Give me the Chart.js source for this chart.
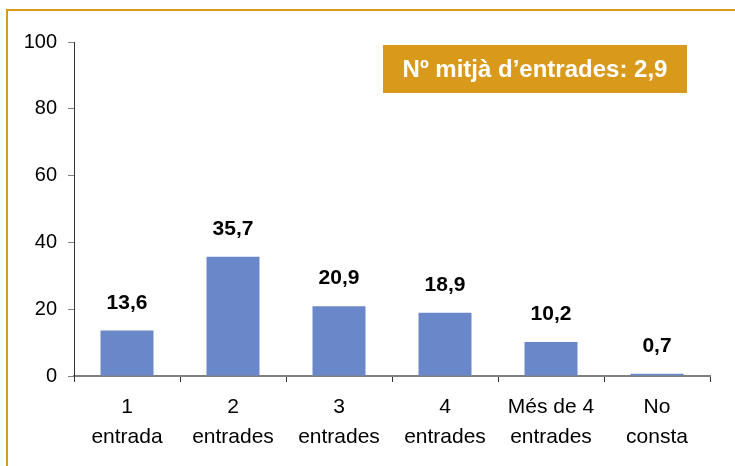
<!DOCTYPE html>
<html>
<head>
<meta charset="utf-8">
<script src="https://cdn.jsdelivr.net/npm/chart.js@4/dist/chart.umd.min.js"></script>
<style>
  html, body { margin: 0; padding: 0; background: #fff; overflow: hidden; }
  canvas { display: block; }
</style>
</head>
<body>
<canvas id="chart" width="735" height="466"></canvas>
<script>
// dades del grafic
const categories = [["1", "entrada"], ["2", "entrades"], ["3", "entrades"], ["4", "entrades"], ["Més de 4", "entrades"], ["No", "consta"]];
const values = [13.6, 35.7, 20.9, 18.9, 10.2, 0.7];
const yTicks = [0, 20, 40, 60, 80, 100];
const noteText = "Nº mitjà d’entrades: 2,9";

const orange = "#d99a1c";
const barBlue = "#6a87c9";
const fontName = "'Liberation Sans', Arial, sans-serif";

// marc taronja, etiquetes de valor i requadre de la mitjana
const extras = {
  id: "extras",
  beforeDraw(chart) {
    const ctx = chart.ctx;
    ctx.save();
    ctx.strokeStyle = orange;
    ctx.lineWidth = 2;
    ctx.beginPath();
    ctx.moveTo(7, 466);
    ctx.lineTo(7, 10);
    ctx.lineTo(735, 10);
    ctx.stroke();
    ctx.restore();
  },
  afterDatasetsDraw(chart) {
    const ctx = chart.ctx;
    ctx.save();
    ctx.font = "bold 21px " + fontName;
    ctx.fillStyle = "#000";
    ctx.textAlign = "center";
    ctx.textBaseline = "bottom";
    chart.getDatasetMeta(0).data.forEach((bar, i) => {
      ctx.fillText(values[i].toFixed(1).replace(".", ","), bar.x, bar.y - 17);
    });

    ctx.fillStyle = orange;
    ctx.fillRect(383, 45, 304, 48);
    ctx.fillStyle = "#fff";
    ctx.font = "bold 24px " + fontName;
    ctx.textBaseline = "middle";
    ctx.fillText(noteText, 535, 70);
    ctx.restore();
  }
};

const canvas = document.getElementById("chart").getContext("2d");
new Chart(canvas, {
  type: "bar",
  data: {
    labels: categories,
    datasets: [{
      data: values,
      backgroundColor: barBlue,
      categoryPercentage: 1,
      barPercentage: 0.5
    }]
  },
  options: {
    responsive: false,
    animation: false,
    devicePixelRatio: 1,
    layout: { padding: { top: 42, right: 25, left: 0, bottom: 0 } },
    plugins: { legend: { display: false }, tooltip: { enabled: false } },
    scales: {
      x: {
        grid: { drawOnChartArea: false, drawTicks: true, tickLength: 6, color: "#333", offset: true },
        border: { display: true, color: "#808080", width: 2 },
        ticks: { color: "#000", font: { family: fontName, size: 21, lineHeight: 1.45 }, padding: 10, maxRotation: 0, autoSkip: false },
        afterFit(scale) { scale.height = 90; }
      },
      y: {
        min: 0,
        max: 100,
        afterBuildTicks(scale) { scale.ticks = yTicks.map(v => ({ value: v })); },
        grid: { drawOnChartArea: false, drawTicks: true, tickLength: 6, color: "#808080" },
        border: { display: true, color: "#333", width: 1 },
        ticks: { color: "#000", font: { family: fontName, size: 20 }, padding: 11 },
        afterFit(scale) { scale.width = 74; }
      }
    }
  },
  plugins: [extras]
});
</script>
</body>
</html>
